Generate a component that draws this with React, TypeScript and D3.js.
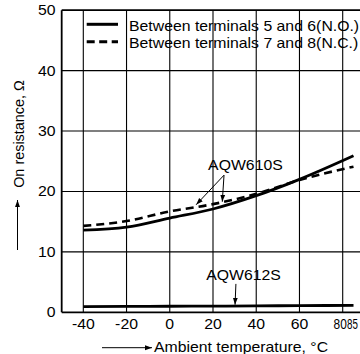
import React from "react";
import * as d3 from "d3";

const temps = [-40, -20, 0, 20, 40, 60, 85];
const aqw610sNO = [13.6, 14.1, 15.6, 17.1, 19.3, 22.0, 25.9];
const aqw610sNC = [14.3, 15.1, 16.7, 17.9, 19.6, 21.9, 24.1];
const aqw612sNO = [0.95, 0.97, 1.0, 1.03, 1.06, 1.1, 1.15];
const xTicks = [-40, -20, 0, 20, 40, 60, 80];
const xTickLabels = ["-40", "-20", "0", "20", "40", "60", "80"];
const yTicks = [0, 10, 20, 30, 40, 50];
const legendLabels = [
  "Between terminals 5 and 6(N.O.)",
  "Between terminals 7 and 8(N.C.)",
];
const xTitle = "Ambient temperature, °C";
const yTitle = "On resistance, Ω";

const W = 360;
const H = 354;
const FONT = "'Liberation Sans', Arial, Helvetica, sans-serif";
const SX = 1.13;

export default function App() {
  const x = d3.scaleLinear().domain([-40, 80]).range([83.3, 342.7]);
  const y = d3.scaleLinear().domain([0, 50]).range([312.3, 10.2]);
  const left = x(-50);
  const right = W;
  const top = y(50);
  const bottom = y(0);

  const line = d3
    .line<number>()
    .x((_, i) => x(temps[i]))
    .y((d) => y(d))
    .curve(d3.curveMonotoneX);

  const T = (
    px: number,
    py: number,
    s: string,
    anchor: string,
    sx = SX,
    size = 14
  ) => (
    <text
      transform={`translate(${px},${py}) scale(${sx},1)`}
      textAnchor={anchor}
      fontSize={size}
      fontFamily={FONT}
      fill="#000"
    >
      {s}
    </text>
  );

  return (
    <svg
      width={W}
      height={H}
      viewBox={`0 0 ${W} ${H}`}
      style={{ position: "absolute", left: 0, top: 0, background: "#fff", display: "block" }}
    >
      <defs>
        <marker
          id="ah"
          viewBox="0 0 10 10"
          refX="10"
          refY="5"
          markerWidth="7"
          markerHeight="7"
          orient="auto"
          markerUnits="userSpaceOnUse"
        >
          <path d="M0,1.5 L10,5 L0,8.5 Z" fill="#000" />
        </marker>
      </defs>
      <rect x={0} y={0} width={W} height={H} fill="#fff" />
      {xTicks.map((t) => (
        <line key={"gx" + t} x1={x(t)} x2={x(t)} y1={top} y2={bottom} stroke="#000" strokeWidth={1.1} />
      ))}
      {yTicks
        .filter((t) => t > 0 && t < 50)
        .map((t) => (
          <line key={"gy" + t} x1={left} x2={right} y1={y(t)} y2={y(t)} stroke="#000" strokeWidth={1.1} />
        ))}
      <line x1={left} x2={right} y1={top} y2={top} stroke="#000" strokeWidth={1.8} />
      <line x1={left} x2={left} y1={top} y2={bottom} stroke="#000" strokeWidth={1.8} />
      <line x1={left} x2={right} y1={bottom} y2={bottom} stroke="#000" strokeWidth={1.8} />

      <path d={line(aqw610sNO) || ""} fill="none" stroke="#000" strokeWidth={2.8} />
      <path
        d={line(aqw610sNC) || ""}
        fill="none"
        stroke="#000"
        strokeWidth={2.6}
        strokeDasharray="8,5"
      />
      <path d={line(aqw612sNO) || ""} fill="none" stroke="#000" strokeWidth={2.8} />

      {yTicks.map((t) => (
        <g key={"yl" + t}>{T(55.5, y(t) + 5, String(t), "end")}</g>
      ))}
      {xTicks.slice(0, 6).map((t, i) => (
        <g key={"xl" + t}>{T(x(t), 329, xTickLabels[i], "middle")}</g>
      ))}
      {T(x(80) - 2.5, 329, "80", "middle", 0.85)}
      {T(x(85) - 1, 329, "85", "middle", 0.7)}

      <line x1={86.7} x2={118} y1={24.3} y2={24.3} stroke="#000" strokeWidth={3} />
      <line x1={86.7} x2={118} y1={41.7} y2={41.7} stroke="#000" strokeWidth={3} strokeDasharray="8,4.5" />
      {T(129, 31.3, legendLabels[0], "start")}
      {T(129, 47.5, legendLabels[1], "start")}

      {T(x(35), y(23.6), "AQW610S", "middle")}
      <line x1={x(25.1)} y1={y(22.7)} x2={x(12.2)} y2={y(17.8)} stroke="#000" strokeWidth={1} markerEnd="url(#ah)" />
      <line x1={x(25.1)} y1={y(22.7)} x2={x(24.3)} y2={y(18.3)} stroke="#000" strokeWidth={1} markerEnd="url(#ah)" />
      {T(x(34.1), y(5.35), "AQW612S", "middle")}
      <line x1={x(30.6)} y1={y(4.7)} x2={x(30.2)} y2={y(1.25)} stroke="#000" strokeWidth={1} markerEnd="url(#ah)" />

      <line x1={102} x2={152} y1={347.7} y2={347.7} stroke="#000" strokeWidth={1} markerEnd="url(#ah)" />
      {T(154, 352, xTitle, "start")}
      <line x1={17.5} x2={17.5} y1={250} y2={200} stroke="#000" strokeWidth={1} markerEnd="url(#ah)" />
      <text
        transform={`translate(23.5,134) rotate(-90) scale(1.03,1)`}
        textAnchor="middle"
        fontSize={14}
        fontFamily={FONT}
        fill="#000"
      >
        {yTitle}
      </text>
    </svg>
  );
}
